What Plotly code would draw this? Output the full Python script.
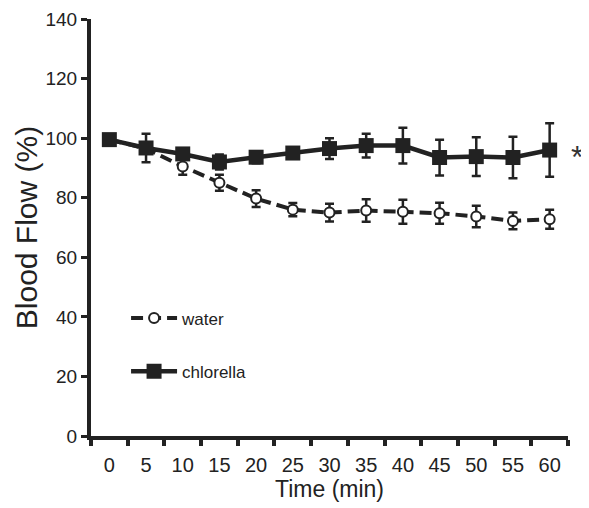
import plotly.graph_objects as go

time_min = [0, 5, 10, 15, 20, 25, 30, 35, 40, 45, 50, 55, 60]
water = [99.5, 96.5, 90.5, 85.0, 79.7, 76.0, 75.0, 75.7, 75.3, 74.8, 73.7, 72.2, 72.8]
water_err = [1.0, 1.5, 2.8, 2.7, 2.8, 2.2, 3.0, 3.8, 4.0, 3.5, 3.6, 2.8, 3.2]
chlorella = [99.5, 96.7, 94.7, 92.0, 93.6, 95.0, 96.5, 97.5, 97.5, 93.5, 93.8, 93.5, 96.0]
chlorella_err = [1.0, 4.8, 1.5, 2.5, 2.0, 1.5, 3.5, 4.0, 6.0, 6.0, 6.5, 7.0, 9.0]
x_ticks = [0, 5, 10, 15, 20, 25, 30, 35, 40, 45, 50, 55, 60]
y_ticks = [0, 20, 40, 60, 80, 100, 120, 140]

INK = "#222222"
REG = "Liberation Sans, Arial, sans-serif"

fig = go.Figure()
fig.add_trace(go.Scatter(
    x=time_min, y=water, name="water", mode="lines+markers", legendgroup="w",
    line=dict(color=INK, width=4, dash="12px,6px"),
    marker=dict(symbol="circle", size=10, color="white", line=dict(color=INK, width=2)),
    error_y=dict(type="data", array=water_err, color=INK, thickness=2.5, width=4.5),
))
fig.add_trace(go.Scatter(
    x=time_min, y=chlorella, name="chlorella", mode="lines+markers", legendgroup="c",
    line=dict(color=INK, width=4.5),
    marker=dict(symbol="square", size=15, color=INK, line=dict(color=INK, width=0)),
    error_y=dict(type="data", array=chlorella_err, color=INK, thickness=2.5, width=4.5),
))

fig.add_annotation(text="*", xref="paper", yref="y", x=1.018, y=93.8, showarrow=False,
                   font=dict(family=REG, size=32, color="#333333"), xanchor="center", yanchor="middle")

fig.update_layout(
    width=581, height=500,
    margin=dict(l=83, r=21, t=11, b=72, autoexpand=False),
    paper_bgcolor="white", plot_bgcolor="white",
    showlegend=True,
    legend=dict(x=0.0735, y=0.325, xanchor="left", yanchor="top", bgcolor="rgba(0,0,0,0)",
                font=dict(family=REG, size=17, color=INK), tracegroupgap=28,
                traceorder="grouped", itemwidth=46),
    xaxis=dict(
        range=[-2.5, 62.5], showgrid=False, zeroline=False,
        showline=True, linecolor=INK, linewidth=4,
        tickmode="array", tickvals=x_ticks, ticktext=[str(v) for v in x_ticks],
        ticks="outside", ticklen=8, tickcolor="rgba(0,0,0,0)", tickwidth=1,
        tickfont=dict(family=REG, size=20, color=INK),
        minor=dict(tick0=-2.5, dtick=5, ticks="outside", ticklen=6, tickwidth=4, tickcolor=INK, showgrid=False),
        title=dict(text="Time (min)", font=dict(family=REG, size=23, color=INK), standoff=6),
        automargin=False,
    ),
    yaxis=dict(
        range=[0, 140], showgrid=False, zeroline=False,
        showline=True, linecolor=INK, linewidth=4,
        tickmode="array", tickvals=y_ticks,
        ticks="outside", ticklen=6, tickwidth=3, tickcolor=INK,
        tickfont=dict(family=REG, size=19, color=INK),
        title=dict(text="Blood Flow (%)", font=dict(family=REG, size=30, color=INK), standoff=0),
        automargin=False,
    ),
)

fig.write_html("out.html")
